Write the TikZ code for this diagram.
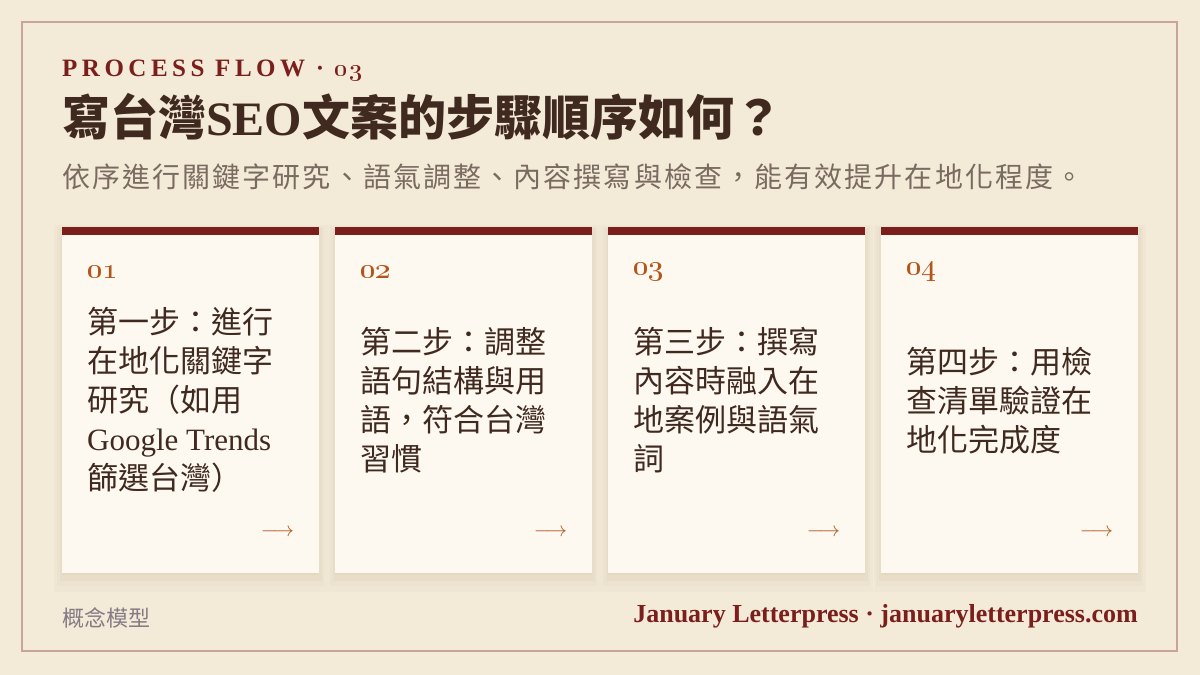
\documentclass[tikz,border=0pt]{standalone}
\usepackage{fontspec}
\setmainfont{Liberation Serif}
\newfontfamily\cjk{Noto Sans CJK TC}
\usetikzlibrary{positioning,shadows}
\definecolor{paper}{HTML}{F3EAD8}
\definecolor{rim}{HTML}{C9A597}
\definecolor{wine}{HTML}{7B1F1D}
\definecolor{ink}{HTML}{40291F}
\definecolor{muted}{HTML}{7A6B60}
\definecolor{footgrey}{HTML}{857B84}
\definecolor{cardbg}{HTML}{FDF9F1}
\definecolor{rust}{HTML}{B4561B}
\definecolor{shade}{HTML}{8A6A40}
\newcommand\oldnum[2]{{\usefont{TS1}{cmr}{bx}{n}\fontsize{#1}{#1}\selectfont #2}}
\tikzset{
  card/.style={fill=cardbg, minimum width=257, minimum height=346, anchor=north west, inner sep=0,
    drop shadow={shadow xshift=0pt, shadow yshift=-8pt, opacity=.025, fill=shade, shadow scale=1.06},
    drop shadow={shadow xshift=0pt, shadow yshift=-6pt, opacity=.03, fill=shade, shadow scale=1.04},
    drop shadow={shadow xshift=0pt, shadow yshift=-4pt, opacity=.035, fill=shade, shadow scale=1.02},
    drop shadow={shadow xshift=0pt, shadow yshift=-2pt, opacity=.04, fill=shade}},
  cardbar/.style={fill=wine},
  stepno/.style={anchor=west, text=rust, inner sep=0},
  steptext/.style={anchor=west, align=left, text=ink, font=\cjk\fontsize{31}{39}\selectfont, inner sep=0},
  nextarrow/.style={anchor=east, text=rust, font=\fontsize{20}{20}\selectfont, inner sep=0}
}
\begin{document}
\begin{tikzpicture}[x=1pt, y=-1pt]
\useasboundingbox (0,0) rectangle (1200,675);
\fill[paper] (0,0) rectangle (1200,675);
\draw[rim, line width=2pt] (22,22) rectangle (1177,651);
\node[anchor=base west, text=wine, inner sep=0, font=\bfseries\fontsize{25}{25}\selectfont\addfontfeature{LetterSpace=18}] (kicker) at (62,76) {PROCESS FLOW · \oldnum{27}{0\kern2pt 3}};
\node[anchor=west, text=ink, inner sep=0, font=\bfseries\fontsize{48}{48}\selectfont] (title) at (62,117) {{\cjk 寫台灣}SEO{\cjk 文案的步驟順序如何？}};
\node[anchor=west, text=muted, inner sep=0, font=\cjk\fontsize{28}{28}\selectfont\addfontfeature{LetterSpace=7.5}] (lede) at (62,177) {依序進行關鍵字研究、語氣調整、內容撰寫與檢查，能有效提升在地化程度。};
\node[card] (c1) at (62,227) {};
\node[card] (c2) at (335,227) {};
\node[card] (c3) at (608,227) {};
\node[card] (c4) at (881,227) {};
\fill[cardbar] (c1.north west) rectangle ([yshift=-8pt]c1.north east);
\fill[cardbar] (c2.north west) rectangle ([yshift=-8pt]c2.north east);
\fill[cardbar] (c3.north west) rectangle ([yshift=-8pt]c3.north east);
\fill[cardbar] (c4.north west) rectangle ([yshift=-8pt]c4.north east);
\node[stepno] (n1) at ([xshift=25pt,yshift=-45pt]c1.north west) {\oldnum{30}{01}};
\node[stepno] (n2) at ([xshift=25pt,yshift=-45pt]c2.north west) {\oldnum{30}{02}};
\node[stepno] (n3) at ([xshift=25pt,yshift=-45pt]c3.north west) {\oldnum{30}{03}};
\node[stepno] (n4) at ([xshift=25pt,yshift=-45pt]c4.north west) {\oldnum{30}{04}};
\node[steptext] (t1) at ([xshift=25pt]c1.west) {第一步：進行\\在地化關鍵字\\研究（如用\\{\rmfamily Google Trends}\\篩選台灣）};
\node[steptext] (t2) at ([xshift=25pt]c2.west) {第二步：調整\\語句結構與用\\語，符合台灣\\習慣};
\node[steptext] (t3) at ([xshift=25pt]c3.west) {第三步：撰寫\\內容時融入在\\地案例與語氣\\詞};
\node[steptext] (t4) at ([xshift=25pt]c4.west) {第四步：用檢\\查清單驗證在\\地化完成度};
\node[nextarrow] (a1) at ([xshift=-25pt,yshift=41pt]c1.south east) {$\longrightarrow$};
\node[nextarrow] (a2) at ([xshift=-25pt,yshift=41pt]c2.south east) {$\longrightarrow$};
\node[nextarrow] (a3) at ([xshift=-25pt,yshift=41pt]c3.south east) {$\longrightarrow$};
\node[nextarrow] (a4) at ([xshift=-25pt,yshift=41pt]c4.south east) {$\longrightarrow$};
\node[anchor=west, text=footgrey, inner sep=0, font=\cjk\fontsize{22}{22}\selectfont] (tag) at (62,618) {概念模型};
\node[anchor=east, text=wine, inner sep=0, font=\bfseries\fontsize{26}{26}\selectfont] (credit) at (1138,616) {January Letterpress · januaryletterpress.com};
\end{tikzpicture}
\end{document}
